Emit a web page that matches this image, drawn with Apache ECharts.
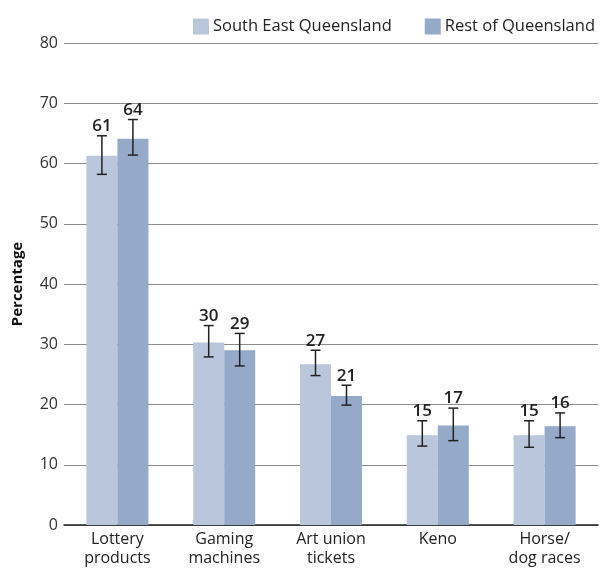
<!DOCTYPE html>
<html>
<head>
<meta charset="utf-8">
<script src="https://cdn.jsdelivr.net/npm/echarts@6/dist/echarts.min.js"></script>
<style>
  html, body { margin: 0; padding: 0; background: #fff; }
  #chart { width: 602px; height: 568px; }
</style>
</head>
<body>
<div id="chart"></div>
<script>
var categories = ['Lottery\nproducts', 'Gaming\nmachines', 'Art union\ntickets', 'Keno', 'Horse/\ndog races'];
var seriesNames = ['South East Queensland', 'Rest of Queensland'];

// bar heights (percent)
var seqValues = [61.3, 30.3, 26.7, 14.9, 14.9];
var roqValues = [64.1, 29.0, 21.4, 16.5, 16.4];

// error bar ends
var seqLow = [58.2, 27.9, 24.8, 13.1, 12.9];
var seqHigh = [64.6, 33.1, 29.0, 17.3, 17.3];
var roqLow = [61.4, 26.4, 19.9, 14.0, 14.5];
var roqHigh = [67.3, 31.8, 23.2, 19.4, 18.6];

var yTicks = [0, 10, 20, 30, 40, 50, 60, 70, 80];

var FONT = '"Open Sans", "Noto Sans", sans-serif';
var BAR_W = 31;

function errData(vals, low, high) {
  return vals.map(function (v, i) {
    return [i, low[i], high[i], Math.round(v)];
  });
}

function errSeries(vals, low, high, shift) {
  return {
    type: 'custom',
    z: 5,
    data: errData(vals, low, high),
    encode: { x: 0, y: [1, 2] },
    renderItem: function (params, api) {
      var lowPt = api.coord([api.value(0), api.value(1)]);
      var highPt = api.coord([api.value(0), api.value(2)]);
      var x = lowPt[0] + shift;
      var cap = 5;
      var st = { stroke: '#222', lineWidth: 1.5 };
      return {
        type: 'group',
        children: [
          { type: 'line', shape: { x1: x, y1: highPt[1], x2: x, y2: lowPt[1] }, style: st },
          { type: 'line', shape: { x1: x - cap, y1: highPt[1], x2: x + cap, y2: highPt[1] }, style: st },
          { type: 'line', shape: { x1: x - cap, y1: lowPt[1], x2: x + cap, y2: lowPt[1] }, style: st },
          {
            type: 'text',
            style: {
              x: x, y: highPt[1] - 1,
              text: String(api.value(3)),
              textAlign: 'center', textVerticalAlign: 'bottom',
              font: '600 17px ' + FONT, fill: '#222'
            }
          }
        ]
      };
    }
  };
}

var chart = echarts.init(document.getElementById('chart'));
chart.setOption({
  animation: false,
  textStyle: { fontFamily: FONT },
  legend: {
    data: seriesNames,
    top: 13,
    right: 2,
    itemWidth: 16,
    itemHeight: 16,
    itemGap: 33,
    icon: 'rect',
    textStyle: { fontSize: 16.5, color: '#222', padding: [0, 0, 0, -1] }
  },
  grid: { left: 64, right: 4, top: 43, bottom: 43, outerBoundsMode: 'none' },
  xAxis: {
    type: 'category',
    data: categories,
    axisLine: { lineStyle: { color: '#222', width: 1.5 } },
    axisTick: { length: 8, lineStyle: { color: '#222', width: 1.5 } },
    axisLabel: { fontSize: 16, color: '#222', lineHeight: 19, margin: 5 }
  },
  yAxis: {
    type: 'value',
    min: yTicks[0],
    max: yTicks[yTicks.length - 1],
    interval: 10,
    name: 'Percentage',
    nameLocation: 'middle',
    nameGap: 39,
    nameTextStyle: { fontSize: 15, fontWeight: 'bold', color: '#111' },
    axisLine: { show: false },
    axisTick: { show: false },
    axisLabel: { fontSize: 16, color: '#333', margin: 6 },
    splitLine: { lineStyle: { color: '#8c8c8c', width: 1 } }
  },
  series: [
    {
      name: seriesNames[0], type: 'bar', data: seqValues,
      barWidth: BAR_W, barGap: '0%',
      itemStyle: { color: '#bac6dc' }
    },
    {
      name: seriesNames[1], type: 'bar', data: roqValues,
      barWidth: BAR_W, barGap: '0%',
      itemStyle: { color: '#95a9c9' }
    },
    errSeries(seqValues, seqLow, seqHigh, -BAR_W / 2),
    errSeries(roqValues, roqLow, roqHigh, BAR_W / 2)
  ]
});
</script>
</body>
</html>
